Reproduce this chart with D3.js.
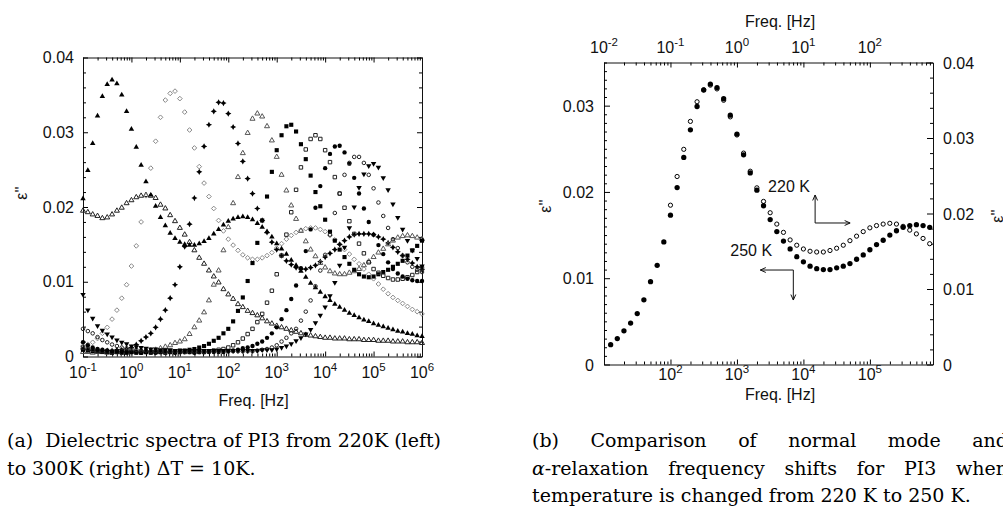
<!DOCTYPE html>
<html>
<head>
<meta charset="utf-8">
<script src="https://cdn.jsdelivr.net/npm/d3@7"></script>
<style>
  body { margin: 0; background: #fff; overflow: hidden; }
  svg { display: block; }
  .lab { font-family: "Liberation Sans", Arial, sans-serif; font-size: 16px; fill: #111; }
  .cap { font-family: "DejaVu Serif", serif; font-size: 19px; fill: #000; white-space: pre; }
</style>
</head>
<body>
<svg id="fig" width="1003" height="507"></svg>
<script>
// measurement grid, log10 of frequency in Hz (10 points per decade)
var logFreq = [-1.0,-0.9,-0.8,-0.7,-0.6,-0.5,-0.4,-0.3,-0.2,-0.1,
  0.0,0.1,0.2,0.3,0.4,0.5,0.6,0.7,0.8,0.9,
  1.0,1.1,1.2,1.3,1.4,1.5,1.6,1.7,1.8,1.9,
  2.0,2.1,2.2,2.3,2.4,2.5,2.6,2.7,2.8,2.9,
  3.0,3.1,3.2,3.3,3.4,3.5,3.6,3.7,3.8,3.9,
  4.0,4.1,4.2,4.3,4.4,4.5,4.6,4.7,4.8,4.9,
  5.0,5.1,5.2,5.3,5.4,5.5,5.6,5.7,5.8,5.9,
  6.0];

// eps'', one array per temperature
var eps210 = [0.0195,0.0193,0.0190,0.0188,0.0185,0.0186,0.0190,0.0195,0.0199,0.0205,
  0.0209,0.0213,0.0215,0.0216,0.0215,0.0212,0.0203,0.0198,0.0189,0.0181,
  0.0172,0.0163,0.0153,0.0142,0.0132,0.0124,0.0115,0.0107,0.0099,0.0090,
  0.0083,0.0077,0.0070,0.0066,0.0061,0.0058,0.0055,0.0051,0.0047,0.0044,
  0.0041,0.0039,0.0037,0.0035,0.0033,0.0031,0.0029,0.0028,0.0027,0.0026,
  0.0025,0.0025,0.0024,0.0024,0.0024,0.0023,0.0023,0.0023,0.0022,0.0022,
  0.0022,0.0021,0.0021,0.0021,0.0020,0.0020,0.0020,0.0019,0.0019,0.0019,
  0.0018];
var eps220 = [0.0211,0.0249,0.0285,0.0322,0.0348,0.0364,0.0370,0.0365,0.0350,0.0328,
  0.0304,0.0280,0.0256,0.0234,0.0216,0.0201,0.0186,0.0175,0.0165,0.0158,
  0.0153,0.0150,0.0149,0.0149,0.0151,0.0154,0.0158,0.0164,0.0170,0.0176,
  0.0181,0.0184,0.0186,0.0187,0.0186,0.0183,0.0178,0.0173,0.0167,0.0160,
  0.0151,0.0144,0.0137,0.0129,0.0122,0.0114,0.0106,0.0098,0.0092,0.0086,
  0.0080,0.0075,0.0070,0.0066,0.0062,0.0058,0.0055,0.0052,0.0049,0.0047,
  0.0044,0.0042,0.0040,0.0038,0.0036,0.0034,0.0033,0.0031,0.0030,0.0028,
  0.0027];
var eps230 = [0.0014,0.0016,0.0019,0.0024,0.0031,0.0039,0.0050,0.0062,0.0078,0.0096,
  0.0121,0.0148,0.0180,0.0215,0.0252,0.0288,0.0320,0.0343,0.0352,0.0355,
  0.0345,0.0327,0.0303,0.0279,0.0254,0.0232,0.0214,0.0198,0.0182,0.0168,
  0.0157,0.0149,0.0142,0.0136,0.0132,0.0130,0.0130,0.0132,0.0135,0.0139,
  0.0145,0.0151,0.0157,0.0162,0.0166,0.0169,0.0171,0.0172,0.0172,0.0170,
  0.0167,0.0162,0.0156,0.0150,0.0143,0.0137,0.0130,0.0124,0.0117,0.0110,
  0.0104,0.0097,0.0090,0.0084,0.0079,0.0075,0.0071,0.0067,0.0063,0.0060,
  0.0057];
var eps240 = [0.0010,0.0009,0.0008,0.0008,0.0008,0.0008,0.0008,0.0009,0.0009,0.0010,
  0.0012,0.0016,0.0021,0.0026,0.0031,0.0039,0.0050,0.0062,0.0078,0.0096,
  0.0120,0.0147,0.0177,0.0212,0.0247,0.0281,0.0310,0.0328,0.0340,0.0339,
  0.0325,0.0307,0.0285,0.0261,0.0238,0.0218,0.0198,0.0182,0.0166,0.0153,
  0.0143,0.0135,0.0128,0.0123,0.0119,0.0117,0.0117,0.0119,0.0122,0.0127,
  0.0133,0.0138,0.0143,0.0150,0.0155,0.0160,0.0163,0.0164,0.0164,0.0164,
  0.0163,0.0160,0.0157,0.0152,0.0146,0.0140,0.0135,0.0130,0.0125,0.0120,
  0.0116];
var eps250 = [0.0006,0.0006,0.0005,0.0006,0.0006,0.0005,0.0006,0.0006,0.0006,0.0007,
  0.0007,0.0007,0.0007,0.0008,0.0008,0.0009,0.0011,0.0013,0.0015,0.0018,
  0.0020,0.0023,0.0030,0.0039,0.0048,0.0059,0.0075,0.0096,0.0115,0.0142,
  0.0173,0.0205,0.0240,0.0272,0.0299,0.0318,0.0325,0.0321,0.0308,0.0289,
  0.0267,0.0243,0.0222,0.0202,0.0184,0.0168,0.0154,0.0143,0.0134,0.0125,
  0.0119,0.0114,0.0111,0.0110,0.0110,0.0112,0.0114,0.0117,0.0122,0.0127,
  0.0133,0.0139,0.0144,0.0150,0.0155,0.0159,0.0161,0.0162,0.0161,0.0159,
  0.0157];
var eps260 = [0.0009,0.0008,0.0007,0.0007,0.0006,0.0006,0.0005,0.0006,0.0006,0.0005,
  0.0006,0.0006,0.0005,0.0006,0.0006,0.0006,0.0006,0.0007,0.0007,0.0007,
  0.0008,0.0008,0.0009,0.0010,0.0012,0.0014,0.0017,0.0021,0.0025,0.0031,
  0.0037,0.0047,0.0061,0.0079,0.0101,0.0125,0.0152,0.0182,0.0214,0.0247,
  0.0276,0.0296,0.0308,0.0310,0.0301,0.0284,0.0264,0.0242,0.0220,0.0201,
  0.0183,0.0167,0.0155,0.0143,0.0133,0.0124,0.0116,0.0110,0.0107,0.0106,
  0.0107,0.0110,0.0113,0.0116,0.0120,0.0124,0.0128,0.0135,0.0142,0.0148,
  0.0155];
var eps270 = [0.0012,0.0010,0.0009,0.0008,0.0007,0.0007,0.0006,0.0006,0.0005,0.0006,
  0.0006,0.0005,0.0006,0.0006,0.0005,0.0006,0.0006,0.0005,0.0006,0.0006,
  0.0006,0.0006,0.0006,0.0006,0.0006,0.0006,0.0007,0.0008,0.0009,0.0010,
  0.0012,0.0015,0.0019,0.0024,0.0030,0.0037,0.0046,0.0057,0.0072,0.0088,
  0.0110,0.0135,0.0163,0.0193,0.0223,0.0253,0.0277,0.0291,0.0296,0.0291,
  0.0276,0.0260,0.0240,0.0218,0.0199,0.0181,0.0164,0.0151,0.0138,0.0126,
  0.0117,0.0112,0.0108,0.0105,0.0103,0.0103,0.0104,0.0106,0.0109,0.0113,
  0.0118];
var eps280 = [0.0019,0.0015,0.0012,0.0010,0.0009,0.0008,0.0007,0.0007,0.0007,0.0006,
  0.0006,0.0006,0.0005,0.0006,0.0006,0.0005,0.0006,0.0006,0.0006,0.0005,
  0.0006,0.0006,0.0006,0.0005,0.0006,0.0006,0.0006,0.0006,0.0006,0.0006,
  0.0007,0.0008,0.0009,0.0011,0.0012,0.0014,0.0017,0.0020,0.0025,0.0031,
  0.0039,0.0050,0.0062,0.0077,0.0095,0.0118,0.0141,0.0170,0.0199,0.0228,
  0.0252,0.0271,0.0281,0.0282,0.0273,0.0258,0.0239,0.0218,0.0198,0.0180,
  0.0163,0.0149,0.0137,0.0126,0.0117,0.0111,0.0107,0.0104,0.0102,0.0101,
  0.0101];
var eps290 = [0.0037,0.0034,0.0031,0.0026,0.0022,0.0019,0.0016,0.0014,0.0012,0.0011,
  0.0010,0.0009,0.0008,0.0008,0.0007,0.0007,0.0007,0.0006,0.0007,0.0007,
  0.0007,0.0006,0.0007,0.0007,0.0007,0.0006,0.0007,0.0007,0.0007,0.0007,
  0.0007,0.0007,0.0007,0.0007,0.0007,0.0007,0.0008,0.0009,0.0010,0.0012,
  0.0015,0.0020,0.0025,0.0031,0.0037,0.0048,0.0060,0.0075,0.0094,0.0115,
  0.0136,0.0163,0.0192,0.0218,0.0243,0.0259,0.0267,0.0267,0.0259,0.0243,
  0.0225,0.0206,0.0188,0.0172,0.0157,0.0145,0.0135,0.0126,0.0120,0.0116,
  0.0113];
var eps300 = [0.0083,0.0062,0.0051,0.0041,0.0035,0.0030,0.0026,0.0022,0.0019,0.0017,
  0.0014,0.0013,0.0012,0.0011,0.0010,0.0010,0.0009,0.0009,0.0009,0.0008,
  0.0008,0.0008,0.0008,0.0008,0.0008,0.0008,0.0008,0.0008,0.0008,0.0008,
  0.0008,0.0008,0.0008,0.0008,0.0008,0.0008,0.0008,0.0009,0.0009,0.0009,
  0.0010,0.0012,0.0014,0.0017,0.0021,0.0025,0.0030,0.0036,0.0045,0.0055,
  0.0066,0.0081,0.0099,0.0122,0.0146,0.0172,0.0200,0.0226,0.0244,0.0255,
  0.0258,0.0253,0.0239,0.0223,0.0204,0.0186,0.0170,0.0155,0.0142,0.0131,
  0.0121];

var temps = ['210 K','220 K','230 K','240 K','250 K','260 K','270 K','280 K','290 K','300 K'];
var seriesValues = [eps210, eps220, eps230, eps240, eps250, eps260, eps270, eps280, eps290, eps300];

// axis domains and tick labels
var leftFreqDomain = [0.1, 1e6];
var leftEpsDomain = [0, 0.04];
var leftDecades = [-1, 0, 1, 2, 3, 4, 5, 6];
var leftEpsTicks = [0, 0.01, 0.02, 0.03, 0.04];
var rightBottomDomain = [10, 8.9e5];      // 250 K
var rightTopDomain = [0.01, 891];         // 220 K
var rightLeftDomain = [0, 0.035];
var rightRightDomain = [0, 0.04];
var rightBottomDecades = [2, 3, 4, 5];
var rightTopDecades = [-2, -1, 0, 1, 2];
var rightLeftTicks = [0, 0.01, 0.02, 0.03];
var rightRightTicks = [0, 0.01, 0.02, 0.03, 0.04];

// ---- marker shapes
var symDiamond = { draw: function (ctx, size) {
  var r = Math.sqrt(size / 2);
  ctx.moveTo(0, -r); ctx.lineTo(r, 0); ctx.lineTo(0, r); ctx.lineTo(-r, 0); ctx.closePath();
} };
var symStar = { draw: function (ctx, size) {
  var r = Math.sqrt(size) * 0.8, q = r * 0.35;
  ctx.moveTo(0, -r); ctx.lineTo(q, -q); ctx.lineTo(r, 0); ctx.lineTo(q, q);
  ctx.lineTo(0, r); ctx.lineTo(-q, q); ctx.lineTo(-r, 0); ctx.lineTo(-q, -q); ctx.closePath();
} };
var symTriDown = { draw: function (ctx, size) {
  var y = -Math.sqrt(size / (Math.sqrt(3) * 3));
  ctx.moveTo(0, -y * 2); ctx.lineTo(-Math.sqrt(3) * y, y); ctx.lineTo(Math.sqrt(3) * y, y); ctx.closePath();
} };

var styles = {
  '210 K': {type: d3.symbolTriangle, size: 11, fill: 'none', stroke: '#222'},
  '220 K': {type: d3.symbolTriangle, size: 13, fill: '#000', stroke: 'none'},
  '230 K': {type: symDiamond, size: 11, fill: 'none', stroke: '#888'},
  '240 K': {type: symStar, size: 15, fill: '#000', stroke: 'none'},
  '250 K': {type: d3.symbolTriangle, size: 11, fill: 'none', stroke: '#555'},
  '260 K': {type: d3.symbolSquare, size: 17, fill: '#000', stroke: 'none'},
  '270 K': {type: d3.symbolSquare, size: 12, fill: 'none', stroke: '#222'},
  '280 K': {type: d3.symbolCircle, size: 15, fill: '#000', stroke: 'none'},
  '290 K': {type: d3.symbolCircle, size: 10, fill: 'none', stroke: '#222'},
  '300 K': {type: symTriDown, size: 13, fill: '#000', stroke: 'none'}
};

var svg = d3.select('#fig');

function logTickValues(scale) {
  var d = scale.domain(), vals = [];
  for (var e = Math.floor(Math.log10(d[0])); e <= Math.ceil(Math.log10(d[1])); e++) {
    for (var m = 1; m < 10; m++) {
      var v = m * Math.pow(10, e);
      if (v >= d[0] * 0.999 && v <= d[1] * 1.001) vals.push(v);
    }
  }
  return vals;
}
function isDecade(v) { var l = Math.log10(v); return Math.abs(l - Math.round(l)) < 1e-6; }
function isStep(step) { return function (v) { return Math.abs(v / step - Math.round(v / step)) < 1e-6; }; }
function epsFmt(d) { return d === 0 ? '0' : d3.format('.2f')(d); }

// one side of a frame: d3 axis, ticks pointing inward, no labels
function side(axisFn, scale, pos, vals, isMajor, major, minor) {
  var vertical = (axisFn === d3.axisLeft || axisFn === d3.axisRight);
  var sign = (axisFn === d3.axisLeft || axisFn === d3.axisTop) ? 1 : -1;
  var g = svg.append('g')
    .attr('transform', vertical ? 'translate(' + pos + ',0)' : 'translate(0,' + pos + ')')
    .call(axisFn(scale).tickValues(vals).tickFormat('').tickSizeOuter(0).tickSizeInner(-major));
  g.selectAll('.tick line').attr(vertical ? 'x2' : 'y2', function (d) { return sign * (isMajor(d) ? major : minor); });
  g.selectAll('path.domain').attr('stroke', '#111');
  return g;
}

function decadeLabels(scale, decades, y) {
  var t = svg.append('g').selectAll('text').data(decades).enter().append('text')
    .attr('class', 'lab').attr('text-anchor', 'middle')
    .attr('x', function (d) { return scale(Math.pow(10, d)); }).attr('y', y);
  t.append('tspan').text('10');
  t.append('tspan').attr('dy', -7).attr('font-size', 11.5).text(function (d) { return d < 0 ? '-' + (-d) : String(d); });
}

function epsLabels(scale, ticks, x, anchor, dy) {
  svg.append('g').selectAll('text').data(ticks).enter().append('text')
    .attr('class', 'lab').attr('text-anchor', anchor)
    .attr('x', x).attr('y', function (d) { return scale(d) + dy; })
    .text(epsFmt);
}

function epsTitle(x, y) {
  svg.append('text').attr('class', 'lab').attr('font-size', 17)
    .attr('text-anchor', 'middle')
    .attr('transform', 'translate(' + x + ',' + y + ') rotate(-90)')
    .text("\u03b5''");
}

function drawPoints(points, xs, ys, st) {
  svg.append('g').selectAll('path').data(points).enter().append('path')
    .attr('transform', function (d) { return 'translate(' + xs(d.f) + ',' + ys(d.v) + ')'; })
    .attr('d', d3.symbol().type(st.type).size(st.size))
    .attr('fill', st.fill).attr('stroke', st.stroke).attr('stroke-width', 1);
}

function pointsOf(values) {
  return logFreq.map(function (e, i) { return {f: Math.pow(10, e), v: values[i]}; });
}

// ================= left panel (a)
var A = {left: 83, right: 422, top: 57.5, bottom: 356.5};
var xA = d3.scaleLog().domain(leftFreqDomain).range([A.left, A.right]);
var yA = d3.scaleLinear().domain(leftEpsDomain).range([A.bottom, A.top]);
var yMinorA = d3.range(0, 0.0401, 0.002);

side(d3.axisBottom, xA, A.bottom, logTickValues(xA), isDecade, 5, 3);
side(d3.axisTop, xA, A.top, logTickValues(xA), isDecade, 5, 3);
side(d3.axisLeft, yA, A.left, yMinorA, isStep(0.01), 5, 3);
side(d3.axisRight, yA, A.right, yMinorA, isStep(0.01), 5, 3);

decadeLabels(xA, leftDecades, 378);
epsLabels(yA, leftEpsTicks, A.left - 9, 'end', 5.5);
svg.append('text').attr('class', 'lab').attr('text-anchor', 'middle')
  .attr('x', (A.left + A.right) / 2 + 1).attr('y', 406).text('Freq. [Hz]');
epsTitle(27, 193);

temps.forEach(function (t, i) { drawPoints(pointsOf(seriesValues[i]), xA, yA, styles[t]); });

// ================= right panel (b): 250 K on bottom/left, 220 K on top/right
var B = {left: 604, right: 933, top: 62.5, bottom: 364.5};
var xBb = d3.scaleLog().domain(rightBottomDomain).range([B.left, B.right]);
var xBt = d3.scaleLog().domain(rightTopDomain).range([B.left, B.right]);
var yBl = d3.scaleLinear().domain(rightLeftDomain).range([B.bottom, B.top]);
var yBr = d3.scaleLinear().domain(rightRightDomain).range([B.bottom, B.top]);

side(d3.axisBottom, xBb, B.bottom, logTickValues(xBb), isDecade, 5, 3);
side(d3.axisTop, xBt, B.top, logTickValues(xBt), isDecade, 5, 3);
side(d3.axisLeft, yBl, B.left, d3.range(0, 0.0351, 0.001), isStep(0.01), 6, 3);
side(d3.axisRight, yBr, B.right, d3.range(0, 0.0401, 0.002), isStep(0.01), 6, 3);

decadeLabels(xBb, rightBottomDecades, 380);
decadeLabels(xBt, rightTopDecades, 53);
epsLabels(yBl, rightLeftTicks, B.left - 10, 'end', 6);
epsLabels(yBr, rightRightTicks, B.right + 10, 'start', 6);
svg.append('text').attr('class', 'lab').attr('text-anchor', 'middle')
  .attr('x', 780).attr('y', 400).text('Freq. [Hz]');
svg.append('text').attr('class', 'lab').attr('text-anchor', 'middle')
  .attr('x', 780).attr('y', 27).text('Freq. [Hz]');
epsTitle(551, 206);
epsTitle(1003, 216);

var inB = function (s) { return function (d) { var d0 = s.domain(); return d.f > d0[0] * 1.05 && d.f <= d0[1]; }; };
drawPoints(pointsOf(eps220).filter(inB(xBt)), xBt, yBr, {type: d3.symbolCircle, size: 14, fill: '#fff', stroke: '#000'});
drawPoints(pointsOf(eps250).filter(inB(xBb)), xBb, yBl, {type: d3.symbolCircle, size: 22, fill: '#000', stroke: 'none'});

// arrows telling which axes each temperature uses
function arrow(x0, y0, x1, y1) {
  var a = Math.atan2(y1 - y0, x1 - x0), h = 6, w = 0.42;
  svg.append('path')
    .attr('d', 'M' + x0 + ',' + y0 + 'L' + x1 + ',' + y1 +
      'M' + (x1 - h * Math.cos(a - w)) + ',' + (y1 - h * Math.sin(a - w)) + 'L' + x1 + ',' + y1 +
      'L' + (x1 - h * Math.cos(a + w)) + ',' + (y1 - h * Math.sin(a + w)))
    .attr('fill', 'none').attr('stroke', '#111').attr('stroke-width', 1);
}
var c220 = [xBb(1.5e4), yBl(0.0164)];
svg.append('text').attr('class', 'lab').attr('x', c220[0] - 47).attr('y', c220[1] - 31).text('220 K');
arrow(c220[0], c220[1], c220[0], c220[1] - 28);
arrow(c220[0], c220[1], c220[0] + 35, c220[1]);
var c250 = [xBb(7.05e3), yBl(0.01095)];
svg.append('text').attr('class', 'lab').attr('x', c250[0] - 63).attr('y', c250[1] - 14).text('250 K');
arrow(c250[0], c250[1], c250[0] - 33, c250[1]);
arrow(c250[0], c250[1], c250[0], c250[1] + 30);

// ================= captions
svg.append('text').attr('class', 'cap').attr('x', 7).attr('y', 447).text('(a)  Dielectric spectra of PI3 from 220K (left)');
svg.append('text').attr('class', 'cap').attr('x', 7).attr('y', 475).text('to 300K (right) \u0394T = 10K.');

function justify(sel, width) {
  var node = sel.node();
  var gaps = (node.textContent.match(/ /g) || []).length;
  sel.attr('word-spacing', (width - node.getComputedTextLength()) / gaps);
}
var b1 = svg.append('text').attr('class', 'cap').attr('x', 532).attr('y', 447).text('(b) Comparison of normal mode and');
justify(b1, 476);
var b2 = svg.append('text').attr('class', 'cap').attr('x', 532).attr('y', 475);
b2.append('tspan').attr('font-style', 'italic').text('\u03b1');
b2.append('tspan').text('-relaxation frequency shifts for PI3 when');
justify(b2, 476);
svg.append('text').attr('class', 'cap').attr('x', 532).attr('y', 502).text('temperature is changed from 220 K to 250 K.');
</script>
</body>
</html>
